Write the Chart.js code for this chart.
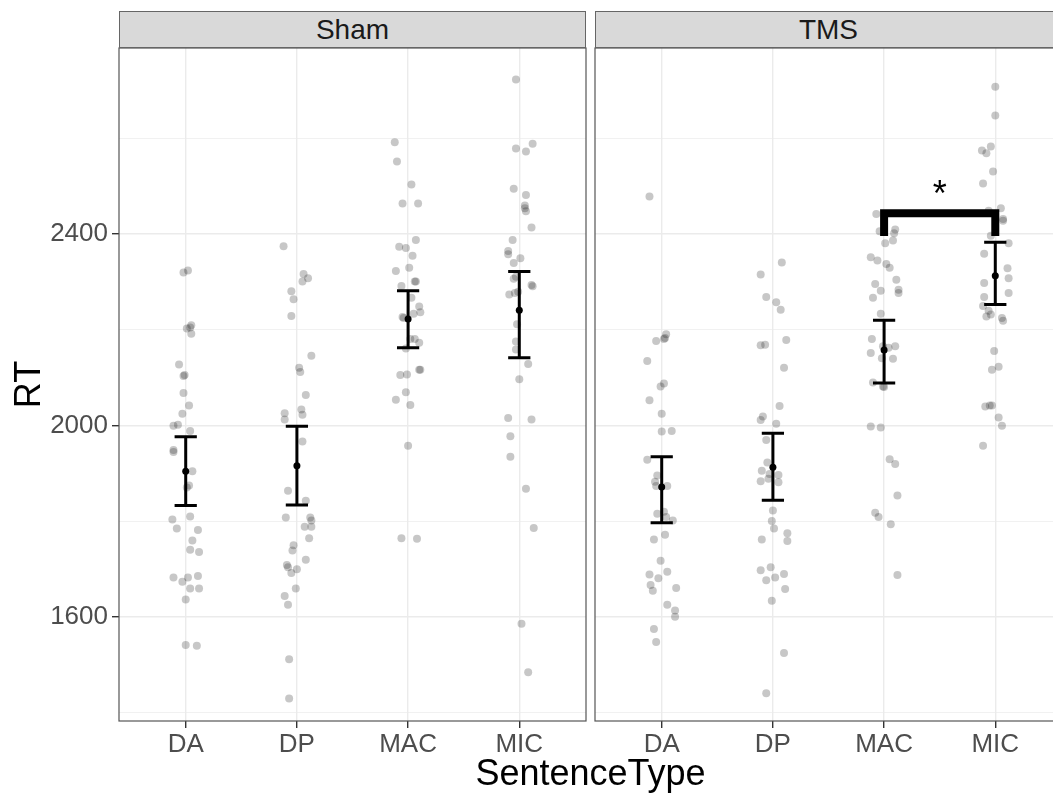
<!DOCTYPE html>
<html>
<head>
<meta charset="utf-8">
<script src="https://cdn.jsdelivr.net/npm/chart.js@4.4.1/dist/chart.umd.min.js"></script>
<style>
  html, body { margin: 0; padding: 0; background: #fff; width: 1053px; height: 796px; overflow: hidden; }
  body { position: relative; font-family: "Liberation Sans", Arial, Helvetica, sans-serif; }
  canvas { position: absolute; top: 0; }
  .strip {
    position: absolute; top: 11px; height: 35px; width: 465px;
    background: #d9d9d9; border: 1px solid #666;
    display: flex; align-items: center; justify-content: center;
    font-size: 28px; color: #1a1a1a;
  }
  .xtitle {
    position: absolute; left: 0; width: 1181px; top: 755px;
    text-align: center; font-size: 36px; line-height: 36px; color: #000;
  }
</style>
</head>
<body>
<canvas id="shamChart" width="590" height="796" style="left:0"></canvas>
<canvas id="tmsChart" width="480" height="796" style="left:590px"></canvas>
<div class="strip" id="stripSham" style="left:119px"></div>
<div class="strip" id="stripTms" style="left:595px"></div>
<div class="xtitle" id="xTitle"></div>

<script>
// ---- data ----
const categories = ['DA', 'DP', 'MAC', 'MIC'];
const panels = ['Sham', 'TMS'];
const xAxisTitle = 'SentenceType';
const yAxisTitle = 'RT';
const yGridValues = [1400, 1600, 1800, 2000, 2200, 2400, 2600];
const yLabelValues = [1600, 2000, 2400];

// Individual RTs and their horizontal jitter (in category units)
const shamDA_rt  = [2320,2324,2203,2210,2205,2192,2128,2106,2104,2068,2042,2025,2000,2002,1989,1949,1945,1905,1875,1871,1804,1810,1785,1782,1760,1741,1736,1683,1674,1683,1686,1660,1660,1637,1542,1540];
const shamDA_jit = [-0.02,0.02,0.01,0.05,0.04,0.05,-0.06,-0.01,-0.02,-0.02,0.03,-0.03,-0.11,-0.07,0.04,-0.11,-0.11,0.06,0.03,0.01,-0.12,0.04,-0.08,0.11,0.06,0.04,0.12,-0.11,-0.03,0.02,0.11,0.04,0.12,0.00,0.00,0.10];

const shamDP_rt  = [2375,2317,2308,2301,2281,2264,2229,2146,2121,2112,2064,2026,2034,2013,2023,1967,1864,1843,1808,1808,1802,1789,1789,1765,1750,1739,1720,1709,1704,1692,1700,1660,1644,1626,1512,1430];
const shamDP_jit = [-0.12,0.06,0.10,0.05,-0.05,-0.03,-0.05,0.13,0.02,0.03,0.08,-0.11,0.04,-0.11,0.05,0.05,-0.08,0.08,-0.10,0.12,0.13,0.07,0.13,0.11,-0.03,-0.04,0.08,-0.09,-0.08,-0.05,0.00,-0.01,-0.11,-0.08,-0.07,-0.07];

const shamMAC_rt  = [2592,2552,2504,2464,2464,2388,2374,2371,2355,2323,2330,2301,2301,2292,2267,2249,2237,2234,2227,2225,2181,2173,2181,2161,2117,2117,2106,2107,2070,2054,2043,1958,1765,1764];
const shamMAC_jit = [-0.12,-0.10,0.03,-0.05,0.09,0.07,-0.08,-0.02,0.04,-0.11,0.01,0.06,0.07,-0.06,0.03,0.10,0.11,0.05,-0.05,-0.04,0.06,0.10,0.02,-0.02,0.10,0.11,-0.07,-0.01,-0.02,-0.11,0.02,0.00,-0.06,0.08];

const shamMIC_rt  = [2723,2579,2573,2589,2495,2482,2460,2454,2448,2414,2388,2365,2358,2350,2340,2307,2311,2294,2291,2274,2277,2280,2212,2176,2159,2129,2097,2016,2013,1978,1935,1868,1786,1586,1485];
const shamMIC_jit = [-0.03,-0.03,0.06,0.12,-0.05,0.06,0.05,0.05,0.06,0.11,-0.06,-0.10,-0.10,0.01,-0.05,-0.05,-0.03,0.11,0.12,-0.09,-0.04,-0.01,-0.02,-0.03,-0.03,0.08,0.00,-0.10,0.11,-0.08,-0.08,0.06,0.13,0.02,0.08];

const tmsDA_rt  = [2479,2191,2177,2181,2183,2135,2088,2082,2053,2025,1988,1989,1929,1896,1883,1874,1874,1816,1820,1809,1802,1762,1772,1718,1689,1695,1681,1667,1655,1661,1626,1614,1601,1575,1548];
const tmsDA_jit = [-0.11,0.04,-0.05,0.02,0.03,-0.13,0.02,-0.01,-0.11,0.00,0.00,0.09,-0.13,-0.04,-0.06,-0.05,0.05,-0.04,0.02,0.04,0.10,-0.07,0.03,-0.01,-0.11,0.05,-0.03,-0.10,-0.08,0.13,0.05,0.12,0.12,-0.07,-0.05];

const tmsDP_rt  = [2341,2316,2269,2258,2242,2168,2169,2179,2121,2041,2019,2012,2004,1970,1923,1906,1899,1897,1884,1889,1882,1823,1801,1785,1762,1775,1759,1698,1704,1677,1683,1690,1659,1634,1525,1441];
const tmsDP_jit = [0.08,-0.11,-0.06,0.03,0.07,-0.11,-0.07,0.12,0.10,0.06,-0.09,-0.11,0.03,-0.06,-0.05,-0.10,-0.03,0.05,-0.11,-0.04,0.05,0.00,-0.01,0.01,-0.10,0.13,0.13,-0.11,-0.02,-0.06,0.02,0.10,0.11,-0.01,0.10,-0.06];

const tmsMAC_rt  = [2442,2406,2410,2402,2387,2381,2352,2345,2338,2330,2305,2296,2284,2277,2282,2267,2234,2181,2152,2166,2163,2166,2141,2140,2090,2082,2081,1998,1996,1930,1920,1854,1818,1809,1794,1688];
const tmsMAC_jit = [-0.07,-0.04,0.10,0.09,0.08,0.01,-0.12,-0.06,0.02,0.05,0.11,-0.08,0.13,0.13,-0.03,-0.10,-0.03,-0.11,-0.12,-0.01,0.04,0.10,-0.02,0.08,-0.10,-0.01,0.00,-0.12,-0.03,0.05,0.10,0.12,-0.08,-0.05,0.06,0.12];

const tmsMIC_rt  = [2708,2648,2575,2569,2583,2531,2506,2449,2454,2432,2428,2397,2381,2359,2329,2308,2298,2277,2269,2250,2240,2228,2232,2225,2219,2156,2117,2123,2040,2042,2042,2017,2000,1958];
const tmsMIC_jit = [0.00,0.00,-0.12,-0.08,-0.04,-0.02,-0.11,-0.06,0.05,0.07,0.07,-0.04,0.12,-0.10,0.11,0.12,-0.10,0.12,-0.10,-0.11,-0.06,-0.08,-0.04,0.06,0.07,-0.01,-0.03,0.03,-0.09,-0.05,-0.03,0.03,0.06,-0.11];

// Condition means with their error-bar limits
const shamMean  = [1905, 1916, 2223, 2241];
const shamLower = [1833, 1834, 2163, 2142];
const shamUpper = [1977, 1999, 2282, 2322];
const tmsMean   = [1872, 1913, 2158, 2313];
const tmsLower  = [1797, 1844, 2089, 2253];
const tmsUpper  = [1935, 1984, 2220, 2383];

// Significance annotation in the TMS panel
const sigFrom = 'MAC';
const sigTo = 'MIC';
const sigBarRT = 2444;
const sigTipRT = 2396;
const sigLabel = '*';

// ---- drawing ----
const FONT = '"Liberation Sans", Arial, Helvetica, sans-serif';
Chart.defaults.font.family = FONT;
Chart.defaults.animation = false;

const Y_MIN = 1383, Y_MAX = 2789;
const X_MIN = 0.4, X_MAX = 4.6;

function pointsFor(rtLists, jitLists) {
  const pts = [];
  rtLists.forEach((rts, c) => {
    rts.forEach((v, k) => pts.push({ x: c + 1 + jitLists[c][k], y: v }));
  });
  return pts;
}

function panelPlugin(mean, lower, upper, withSig) {
  return {
    id: 'panelDecor',
    afterDatasetsDraw(chart) {
      const { ctx, scales: { x, y } } = chart;
      ctx.save();
      ctx.strokeStyle = '#000';
      ctx.lineWidth = 3;
      ctx.lineCap = 'butt';
      mean.forEach((m, i) => {
        const cx = x.getPixelForValue(i + 1);
        const xl = x.getPixelForValue(i + 1 - 0.1);
        const xr = x.getPixelForValue(i + 1 + 0.1);
        const yt = y.getPixelForValue(upper[i]);
        const yb = y.getPixelForValue(lower[i]);
        ctx.beginPath();
        ctx.moveTo(cx, yt); ctx.lineTo(cx, yb);
        ctx.moveTo(xl, yt); ctx.lineTo(xr, yt);
        ctx.moveTo(xl, yb); ctx.lineTo(xr, yb);
        ctx.stroke();
      });
      if (withSig) {
        const x1 = x.getPixelForValue(categories.indexOf(sigFrom) + 1);
        const x2 = x.getPixelForValue(categories.indexOf(sigTo) + 1);
        const yb = y.getPixelForValue(sigBarRT);
        const yt = y.getPixelForValue(sigTipRT);
        ctx.lineWidth = 8;
        ctx.lineJoin = 'miter';
        ctx.beginPath();
        ctx.moveTo(x1, yt); ctx.lineTo(x1, yb); ctx.lineTo(x2, yb); ctx.lineTo(x2, yt);
        ctx.stroke();
        ctx.fillStyle = '#000';
        ctx.font = '36px ' + FONT;
        ctx.textAlign = 'center';
        ctx.textBaseline = 'alphabetic';
        ctx.fillText(sigLabel, (x1 + x2) / 2, yb - 7);
      }
      ctx.restore();
    },
    afterDraw(chart) {
      const a = chart.chartArea;
      const ctx = chart.ctx;
      ctx.save();
      ctx.strokeStyle = '#555';
      ctx.lineWidth = 1.2;
      ctx.strokeRect(a.left, a.top, a.right - a.left, a.bottom - a.top);
      ctx.restore();
    }
  };
}

function makeChart(id, rtLists, jitLists, mean, lower, upper, isFirst, withSig) {
  const gridColor = '#ebebeb';
  return new Chart(document.getElementById(id), {
    type: 'scatter',
    data: {
      datasets: [
        {
          data: mean.map((m, i) => ({ x: i + 1, y: m })),
          pointRadius: 3.5, pointHoverRadius: 3.5,
          backgroundColor: '#000', borderWidth: 0, order: 0
        },
        {
          data: pointsFor(rtLists, jitLists),
          pointRadius: 4, pointHoverRadius: 4,
          backgroundColor: 'rgba(0,0,0,0.22)', borderWidth: 0, order: 1
        }
      ]
    },
    options: {
      responsive: false,
      animation: false,
      events: [],
      layout: { padding: { top: 48, right: isFirst ? 4 : 8, left: 0, bottom: 0 } },
      plugins: { legend: { display: false }, tooltip: { enabled: false } },
      scales: {
        x: {
          type: 'linear', min: X_MIN, max: X_MAX,
          afterBuildTicks: s => { s.ticks = categories.map((c, i) => ({ value: i + 1 })); },
          afterFit: s => { s.height = 75; },
          border: { display: false },
          grid: { color: gridColor, lineWidth: 1.4, tickColor: '#333', tickLength: 7, drawTicks: true },
          ticks: {
            autoSkip: false, maxRotation: 0, padding: 1,
            color: '#4d4d4d', font: { size: 26, family: FONT },
            callback: v => categories[Math.round(v) - 1]
          }
        },
        y: {
          type: 'linear', min: Y_MIN, max: Y_MAX,
          afterBuildTicks: s => { s.ticks = yGridValues.map(v => ({ value: v })); },
          afterFit: s => { s.width = isFirst ? 119 : 5; },
          border: { display: false },
          grid: {
            color: gridColor,
            lineWidth: c => (c.tick && yLabelValues.includes(c.tick.value)) ? 1.4 : 0.7,
            tickColor: c => (c.tick && yLabelValues.includes(c.tick.value)) ? '#333' : 'rgba(0,0,0,0)',
            tickLength: 7,
            drawTicks: isFirst
          },
          ticks: {
            display: isFirst,
            autoSkip: false, padding: 4,
            color: '#4d4d4d', font: { size: 26, family: FONT },
            callback: v => yLabelValues.includes(v) ? String(v) : ''
          },
          title: {
            display: isFirst, text: yAxisTitle, color: '#000',
            font: { size: 36, family: FONT }, padding: { top: 8, bottom: 0 }
          }
        }
      }
    },
    plugins: [panelPlugin(mean, lower, upper, withSig)]
  });
}

document.getElementById('stripSham').textContent = panels[0];
document.getElementById('stripTms').textContent = panels[1];
document.getElementById('xTitle').textContent = xAxisTitle;

makeChart('shamChart',
  [shamDA_rt, shamDP_rt, shamMAC_rt, shamMIC_rt],
  [shamDA_jit, shamDP_jit, shamMAC_jit, shamMIC_jit],
  shamMean, shamLower, shamUpper, true, false);

makeChart('tmsChart',
  [tmsDA_rt, tmsDP_rt, tmsMAC_rt, tmsMIC_rt],
  [tmsDA_jit, tmsDP_jit, tmsMAC_jit, tmsMIC_jit],
  tmsMean, tmsLower, tmsUpper, false, true);
</script>
</body>
</html>
